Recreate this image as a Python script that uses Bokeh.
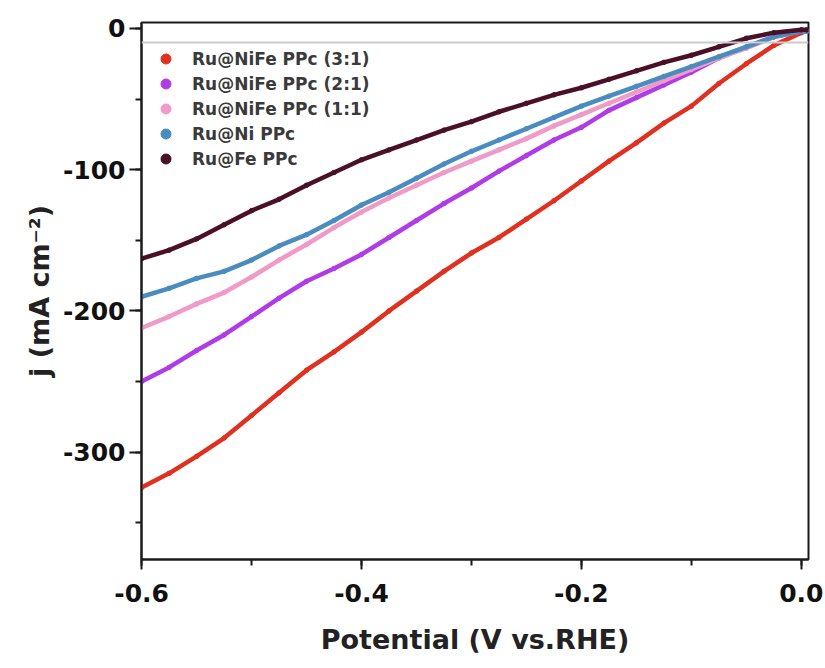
from bokeh.plotting import figure
from bokeh.models import (Range1d, SingleIntervalTicker, NumeralTickFormatter,
                          Span, Legend, LegendItem)
from bokeh.embed import file_html
from bokeh.resources import INLINE

# Potential (V vs. RHE)
potential = [-0.600, -0.575, -0.550, -0.525, -0.500, -0.475, -0.450, -0.425,
             -0.400, -0.375, -0.350, -0.325, -0.300, -0.275, -0.250, -0.225,
             -0.200, -0.175, -0.150, -0.125, -0.100, -0.075, -0.050, -0.025,
             0.000, 0.005]

# Current density j (mA cm^-2)
ru_nife_31 = [-325, -315, -303, -290, -274, -258, -242, -229,
              -215, -200, -186, -172, -159, -148, -135, -122,
              -108, -94, -81, -67, -55, -39, -25, -12,
              -3, -2]
ru_nife_21 = [-250, -240, -228, -217, -204, -191, -179, -170,
              -160, -148, -136, -124, -113, -101, -90, -79,
              -70, -58, -49, -40, -31, -21, -13, -6,
              -2, -2]
ru_nife_11 = [-212, -204, -195, -187, -176, -164, -153, -141,
              -130, -120, -111, -102, -94, -86, -78, -69,
              -61, -53, -45, -37, -29, -21, -14, -6,
              -2, -2]
ru_ni = [-190, -184, -177, -172, -164, -154, -146, -136,
         -125, -116, -106, -96, -87, -79, -71, -63,
         -55, -48, -41, -34, -27, -20, -13, -6,
         -2, -2]
ru_fe = [-163, -157, -149, -139, -129, -121, -111, -102,
         -93, -86, -79, -72, -66, -59, -53, -47,
         -42, -36, -30, -24, -19, -13, -7, -3,
         -1, -1]

series_names = ["Ru@NiFe PPc (3:1)", "Ru@NiFe PPc (2:1)", "Ru@NiFe PPc (1:1)",
                "Ru@Ni PPc", "Ru@Fe PPc"]
series_values = [ru_nife_31, ru_nife_21, ru_nife_11, ru_ni, ru_fe]
series_colors = ["#e0301f", "#b03ce6", "#f09ac8", "#4a8cc0", "#4a1028"]

reference_j = -10

FONT = "DejaVu Sans"

p = figure(width=825, height=668, output_backend="svg", toolbar_location=None,
           x_range=Range1d(-0.6001, 0.0065), y_range=Range1d(-376, 4.2),
           min_border_left=141, min_border_right=17,
           min_border_top=22, min_border_bottom=109)

p.xgrid.visible = False
p.ygrid.visible = False
p.outline_line_color = "#1a1a1a"
p.outline_line_width = 2
p.background_fill_color = "white"
p.border_fill_color = "white"

p.add_layout(Span(location=reference_j, dimension="width",
                  line_color="#cccccc", line_width=2))

items = []
for name, vals, col in zip(series_names, series_values, series_colors):
    p.line(potential, vals, line_color=col, line_width=4.5, line_join="round")
    r = p.scatter(potential, vals, size=4.5, fill_color=col, line_color=col)
    items.append(LegendItem(label=name, renderers=[r]))

legend = Legend(items=items, location=(12, 388), orientation="vertical",
                glyph_width=25, glyph_height=25, label_height=25, spacing=0,
                padding=0, margin=0, label_standoff=14,
                label_text_font=FONT, label_text_font_style="bold",
                label_text_font_size="17px", label_text_color="#3a3a3a",
                background_fill_alpha=0, border_line_alpha=0)
p.add_layout(legend)

# X axis
xa = p.xaxis[0]
xa.ticker = SingleIntervalTicker(interval=0.2, num_minor_ticks=2)
xa.formatter = NumeralTickFormatter(format="0.0")
xa.axis_label = "Potential (V vs.RHE)"
# Y axis
ya = p.yaxis[0]
ya.ticker = SingleIntervalTicker(interval=100, num_minor_ticks=2)
ya.formatter = NumeralTickFormatter(format="0")
ya.axis_label = "j (mA cm⁻²)"

for ax in (xa, ya):
    ax.axis_line_width = 2
    ax.axis_line_color = "#1a1a1a"
    ax.major_tick_line_width = 2
    ax.minor_tick_line_width = 2
    ax.major_tick_line_color = "#1a1a1a"
    ax.minor_tick_line_color = "#1a1a1a"
    ax.major_tick_in = 0
    ax.minor_tick_in = 0
    ax.major_label_text_font = FONT
    ax.major_label_text_font_style = "bold"
    ax.major_label_text_font_size = "25px"
    ax.major_label_text_color = "#111111"
    ax.axis_label_text_font = FONT
    ax.axis_label_text_font_style = "bold"
    ax.axis_label_text_font_size = "27px"
    ax.axis_label_text_color = "#222222"

xa.major_tick_out = 10
xa.minor_tick_out = 6
xa.major_label_standoff = 14
xa.axis_label_standoff = 19
ya.major_tick_out = 12
ya.minor_tick_out = 6
ya.major_label_standoff = 4
ya.axis_label_standoff = 5

open("out.html", "w").write(file_html(p, INLINE))
